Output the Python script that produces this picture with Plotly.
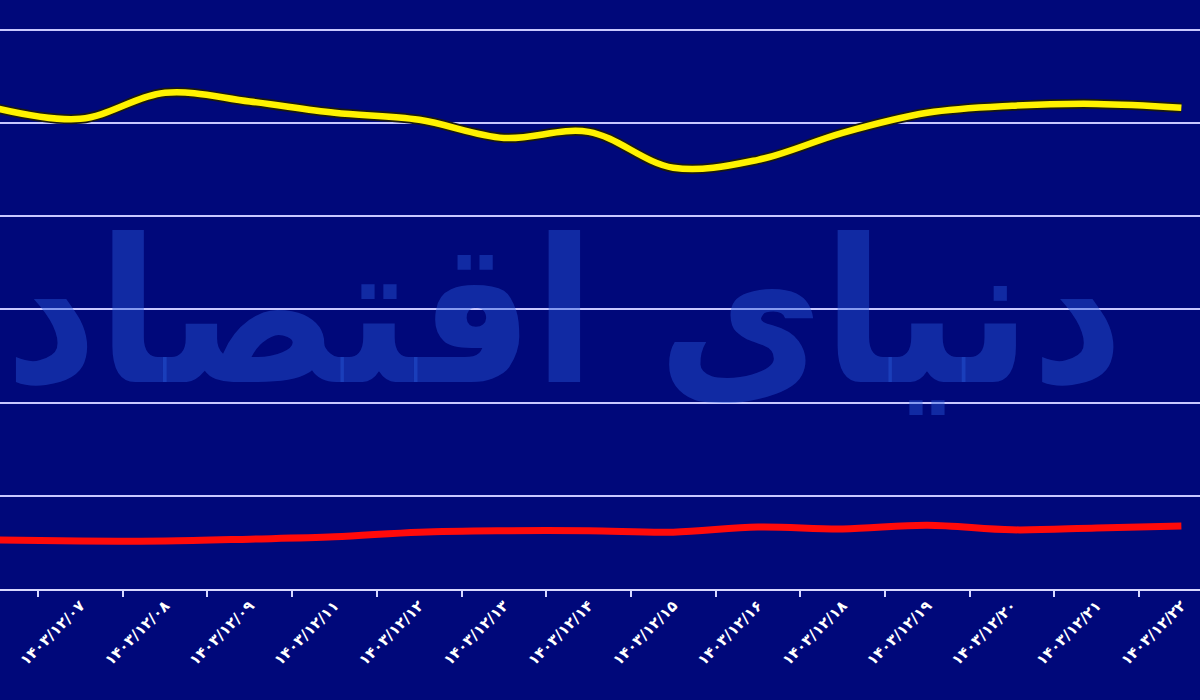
import plotly.graph_objects as go

# category labels (first point is a partially visible, unlabeled date at the left edge)
dates = ["", "۱۴۰۳/۱۲/۰۷", "۱۴۰۳/۱۲/۰۸", "۱۴۰۳/۱۲/۰۹", "۱۴۰۳/۱۲/۱۱", "۱۴۰۳/۱۲/۱۲",
         "۱۴۰۳/۱۲/۱۳", "۱۴۰۳/۱۲/۱۴", "۱۴۰۳/۱۲/۱۵", "۱۴۰۳/۱۲/۱۶", "۱۴۰۳/۱۲/۱۸",
         "۱۴۰۳/۱۲/۱۹", "۱۴۰۳/۱۲/۲۰", "۱۴۰۳/۱۲/۲۱", "۱۴۰۳/۱۲/۲۲"]

yellow_values = [51.6, 50.45, 53.25, 52.3, 51.1, 50.35, 48.4, 49.05, 45.2, 46.05,
                 48.95, 51.1, 51.85, 52.05, 51.65]
red_values = [5.25, 5.15, 5.15, 5.35, 5.6, 6.1, 6.25, 6.25, 6.1, 6.65,
              6.45, 6.85, 6.35, 6.55, 6.75]

idx = list(range(len(dates)))
label_idx = idx[1:]
label_text = dates[1:]
boundaries = [i + 0.5 for i in idx[:-1]]

fig = go.Figure()

# dark outline under the yellow line
fig.add_trace(go.Scatter(x=idx, y=yellow_values, mode="lines",
                         line=dict(color="#1a1a10", width=10, shape="spline"),
                         hoverinfo="skip", showlegend=False))
fig.add_trace(go.Scatter(x=idx, y=yellow_values, mode="lines",
                         line=dict(color="#FFF200", width=6.5, shape="spline"),
                         showlegend=False))
fig.add_trace(go.Scatter(x=idx, y=red_values, mode="lines",
                         line=dict(color="#FF0A0A", width=7, shape="spline"),
                         showlegend=False))

fig.add_annotation(text="<b>دنیای اقتصاد</b>", xref="paper", yref="paper",
                   x=0.47, y=0.47, xanchor="center", yanchor="middle",
                   showarrow=False,
                   font=dict(family="DejaVu Sans Condensed, DejaVu Sans", size=200,
                             color="rgba(40,90,220,0.42)"))

fig.update_layout(
    width=1200, height=700,
    margin=dict(l=0, r=0, t=0, b=111, autoexpand=False),
    paper_bgcolor="#00087A",
    plot_bgcolor="#00087A",
    xaxis=dict(range=[0.05, 14.22], tickmode="array", tickvals=label_idx,
               ticktext=label_text, tickangle=-45, ticks="",
               tickfont=dict(family="DejaVu Sans", size=15, color="white", weight="bold"),
               showgrid=False, zeroline=False,
               showline=True, linecolor="#d8d8ff", linewidth=2,
               minor=dict(tickmode="array", tickvals=boundaries, ticks="outside",
                          ticklen=6, tickcolor="#d8d8ff", tickwidth=1.5,
                          showgrid=False)),
    yaxis=dict(range=[0, 63.2], dtick=10, tick0=0, showticklabels=False,
               showgrid=True, gridcolor="#c8c8ff", gridwidth=1.5,
               zeroline=False, showline=False),
)

fig.write_html("out.html", config={"displayModeBar": False},
               post_script="document.body.style.margin='0';document.body.style.background='#00087A';")
